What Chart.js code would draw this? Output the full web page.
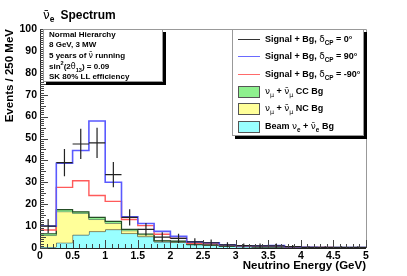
<!DOCTYPE html>
<html>
<head>
<meta charset="utf-8">
<script src="https://cdn.jsdelivr.net/npm/chart.js@4.4.1/dist/chart.umd.min.js"></script>
<style>
  html, body { margin: 0; padding: 0; background: #fff; }
  #wrap { position: relative; width: 407px; height: 276px; font-family: "Liberation Sans", Arial, sans-serif; font-weight: bold; color: #000; }
  #chart { position: absolute; left: 0; top: 0; }
  .box { position: absolute; background: #fff; border: 1px solid #999; box-shadow: 3px 3px 0 #000; box-sizing: border-box; }
  .txt { position: absolute; white-space: nowrap; line-height: 1; }
  .gr { font-family: "DejaVu Sans", sans-serif; font-weight: normal; }
  sub, sup { font-size: 70%; line-height: 0; }
  .swatch { position: absolute; left: 5px; width: 22px; }
  .fillbox { position: absolute; left: 5px; width: 22px; height: 12px; border: 1px solid #555; box-sizing: border-box; }
</style>
</head>
<body>
<div id="wrap">
  <canvas id="chart" width="407" height="276"></canvas>

  <div class="txt" style="left:43px; top:9px; font-size:12px;"><span class="gr">ν̄</span><sub>e</sub><span style="margin-left:6px;">Spectrum</span></div>

  <div class="box" style="left:43px; top:29px; width:120px; height:53px;">
    <div class="txt" style="left:5px; top:1px; font-size:8px;">Normal Hierarchy</div>
    <div class="txt" style="left:5px; top:11px; font-size:8px;">8 GeV, 3 MW</div>
    <div class="txt" style="left:5px; top:22px; font-size:8px;">5 years of <span class="gr">ν̄</span> running</div>
    <div class="txt" style="left:5px; top:33px; font-size:8px;">sin<sup>2</sup>(2<span class="gr">θ</span><sub>13</sub>) = 0.09</div>
    <div class="txt" style="left:5px; top:43px; font-size:8px;">SK 80% LL efficiency</div>
  </div>

  <div class="box" style="left:232px; top:29px; width:132px; height:107px;" id="legend"></div>
</div>

<script>
const binEdges = [0, 0.25, 0.5, 0.75, 1, 1.25, 1.5, 1.75, 2, 2.25, 2.5, 2.75, 3, 3.25, 3.5, 3.75, 4, 4.25, 4.5, 4.75, 5];

// signal + background, delta_CP = 0 (points with errors)
const cp0 = [10, 39, 47.5, 48, 33.5, 14, 8.5, 5, 4.4, 2.8, 2.4, 1.4, 1.1, 1.0, 1.0, 0.6, 0.3, 0.3, 0.3, 0.3];
const cp0Err = [3.2, 6.2, 6.9, 6.9, 5.8, 3.7, 2.9, 2.2, 2.1, 1.7, 1.5, 1.2, 1.0, 1.0, 1.0, 0.8, 0.5, 0.5, 0.5, 0.5];
// delta_CP = 90 and -90
const cp90 = [10, 38.7, 44.5, 58, 30, 14.2, 11.2, 7.6, 5.3, 2.8, 2.4, 1.5, 1.0, 1.0, 1.1, 0.6, 0.3, 0.2, 0.2, 0.2];
const cpm90 = [8.2, 27.7, 30.7, 24, 21.3, 13, 10.2, 6.3, 4.4, 2.2, 2.0, 1.3, 0.9, 0.9, 0.9, 0.5, 0.2, 0.2, 0.1, 0.1];

// backgrounds (stacked: beam, NC, CC)
const beamBg = [0.5, 2.4, 6.0, 7.5, 8.4, 6.6, 5.2, 2.8, 2.6, 1.5, 1.2, 0.8, 0.6, 0.5, 0.5, 0.3, 0.15, 0.1, 0.1, 0.05];
const ncBg = [5.2, 14.2, 9.8, 5.5, 2.9, 1.3, 0.9, 0.4, 0.4, 0.2, 0.15, 0.1, 0.1, 0.05, 0.05, 0.05, 0, 0, 0, 0];
const ccBg = [0.8, 0.9, 0.7, 1.0, 0.9, 0.6, 0.3, 0.1, 0.1, 0.1, 0.05, 0, 0, 0, 0, 0, 0, 0, 0, 0];

const xTicks = [0, 0.5, 1, 1.5, 2, 2.5, 3, 3.5, 4, 4.5, 5];
const yTicks = [0, 10, 20, 30, 40, 50, 60, 70, 80, 90, 100];

function steps(vals) {
  return binEdges.map((x, i) => ({ x: x, y: vals[Math.min(i, vals.length - 1)] }));
}

const ncTop = ncBg.map((v, i) => v + beamBg[i]);
const ccTop = ccBg.map((v, i) => v + ncTop[i]);

// legend
const legendRows = [
  { type: "line", color: "#333", html: 'Signal + Bg, <span class="gr">δ</span><sub>CP</sub> = 0°' },
  { type: "line", color: "#6a6aff", html: 'Signal + Bg, <span class="gr">δ</span><sub>CP</sub> = 90°' },
  { type: "line", color: "#ff6a6a", html: 'Signal + Bg, <span class="gr">δ</span><sub>CP</sub> = -90°' },
  { type: "box", color: "#8ef08e", html: '<span class="gr">ν</span><sub><span class="gr">μ</span></sub> + <span class="gr">ν̄</span><sub><span class="gr">μ</span></sub> CC Bg' },
  { type: "box", color: "#ffff99", html: '<span class="gr">ν</span><sub><span class="gr">μ</span></sub> + <span class="gr">ν̄</span><sub><span class="gr">μ</span></sub> NC Bg' },
  { type: "box", color: "#99ffff", html: 'Beam <span class="gr">ν</span><sub>e</sub> + <span class="gr">ν̄</span><sub>e</sub> Bg' }
];
const legend = document.getElementById("legend");
legendRows.forEach((row, i) => {
  const cy = 10 + i * 17.3;
  if (row.type === "line") {
    legend.innerHTML += `<div class="swatch" style="top:${cy - 1}px; height:0; border-top:1.5px solid ${row.color};"></div>`;
  } else {
    legend.innerHTML += `<div class="fillbox" style="top:${cy - 6}px; background:${row.color};"></div>`;
  }
  legend.innerHTML += `<div class="txt" style="left:32px; top:${cy - 5}px; font-size:9px;">${row.html}</div>`;
});

const frameAndTicks = {
  id: "frameAndTicks",
  afterDatasetsDraw(chart) {
    const ctx = chart.ctx;
    const xs = chart.scales.x;
    const ys = chart.scales.y;

    // data points with error bars
    ctx.save();
    ctx.strokeStyle = "#222";
    ctx.lineWidth = 1.2;
    cp0.forEach((v, i) => {
      const x0 = xs.getPixelForValue(binEdges[i]);
      const x1 = xs.getPixelForValue(binEdges[i + 1]);
      const xc = (x0 + x1) / 2;
      const y = ys.getPixelForValue(v);
      ctx.beginPath();
      ctx.moveTo(x0, y);
      ctx.lineTo(x1, y);
      ctx.moveTo(xc, ys.getPixelForValue(v - cp0Err[i]));
      ctx.lineTo(xc, ys.getPixelForValue(v + cp0Err[i]));
      ctx.stroke();
    });
    ctx.restore();
  },
  afterDraw(chart) {
    const ctx = chart.ctx;
    const xs = chart.scales.x;
    const ys = chart.scales.y;
    const a = chart.chartArea;
    ctx.save();
    ctx.lineWidth = 1;
    ctx.strokeStyle = "#999";
    ctx.beginPath();
    ctx.moveTo(a.left, a.top + 0.5);
    ctx.lineTo(a.right + 0.5, a.top + 0.5);
    ctx.lineTo(a.right + 0.5, a.bottom);
    ctx.stroke();

    ctx.strokeStyle = "#222";
    ctx.beginPath();
    ctx.moveTo(a.left + 0.5, a.top);
    ctx.lineTo(a.left + 0.5, a.bottom + 0.5);
    ctx.lineTo(a.right, a.bottom + 0.5);
    ctx.stroke();

    ctx.strokeStyle = "#444";
    ctx.beginPath();
    for (let k = 0; k <= 100; k++) {
      const y = Math.round(ys.getPixelForValue(k)) + 0.5;
      const len = k % 10 === 0 ? 8 : (k % 5 === 0 ? 6 : 4);
      ctx.moveTo(a.left, y);
      ctx.lineTo(a.left + len, y);
    }
    for (let k = 0; k <= 50; k++) {
      const x = Math.round(xs.getPixelForValue(k / 10)) + 0.5;
      const len = k % 5 === 0 ? 8 : 4;
      ctx.moveTo(x, a.bottom);
      ctx.lineTo(x, a.bottom - len);
    }
    ctx.stroke();
    ctx.restore();
  }
};

const tickFont = { family: "'Liberation Sans', Arial, sans-serif", size: 10.5, weight: "bold" };
const titleFont = { family: "'Liberation Sans', Arial, sans-serif", size: 11.5, weight: "bold" };

new Chart(document.getElementById("chart"), {
  type: "line",
  data: {
    datasets: [
      { label: "cp90", data: steps(cp90), stepped: "before", borderColor: "#5a5aff", borderWidth: 1.6, fill: false, order: 1 },
      { label: "cpm90", data: steps(cpm90), stepped: "before", borderColor: "#ff5a5a", borderWidth: 1.4, fill: false, order: 2 },
      { label: "beam", data: steps(beamBg), stepped: "before", borderColor: "#222", borderWidth: 1, backgroundColor: "#99ffff", fill: "origin", order: 12 },
      { label: "nc", data: steps(ncTop), stepped: "before", borderColor: "#555", borderWidth: 1, backgroundColor: "#ffff99", fill: "-1", order: 11 },
      { label: "cc", data: steps(ccTop), stepped: "before", borderColor: "#254d25", borderWidth: 1.2, backgroundColor: "#8ef08e", fill: "-1", order: 10 }
    ]
  },
  options: {
    responsive: false,
    animation: false,
    events: [],
    elements: { point: { radius: 0 }, line: { tension: 0 } },
    layout: { padding: { top: 29, right: 41, left: 0, bottom: 0 } },
    plugins: { legend: { display: false }, tooltip: { enabled: false } },
    scales: {
      x: {
        type: "linear", min: 0, max: 5,
        afterFit(s) { s.height = 28; },
        afterBuildTicks(s) { s.ticks = xTicks.map(v => ({ value: v })); },
        grid: { display: false, drawTicks: false }, border: { display: false },
        ticks: { font: tickFont, color: "#000", padding: 2, maxRotation: 0, autoSkip: false, callback: v => String(v) },
        title: { display: true, text: "Neutrino Energy (GeV)", align: "end", font: titleFont, color: "#000", padding: { top: 0, bottom: 3 } }
      },
      y: {
        type: "linear", min: 0, max: 100,
        afterFit(s) { s.width = 40; },
        afterBuildTicks(s) { s.ticks = yTicks.map(v => ({ value: v })); },
        grid: { display: false, drawTicks: false }, border: { display: false },
        ticks: { font: tickFont, color: "#000", padding: 3, callback: v => String(v) },
        title: { display: true, text: "Events / 250 MeV", align: "end", font: titleFont, color: "#000", padding: { top: 3, bottom: 0 } }
      }
    }
  },
  plugins: [frameAndTicks]
});
</script>
</body>
</html>
